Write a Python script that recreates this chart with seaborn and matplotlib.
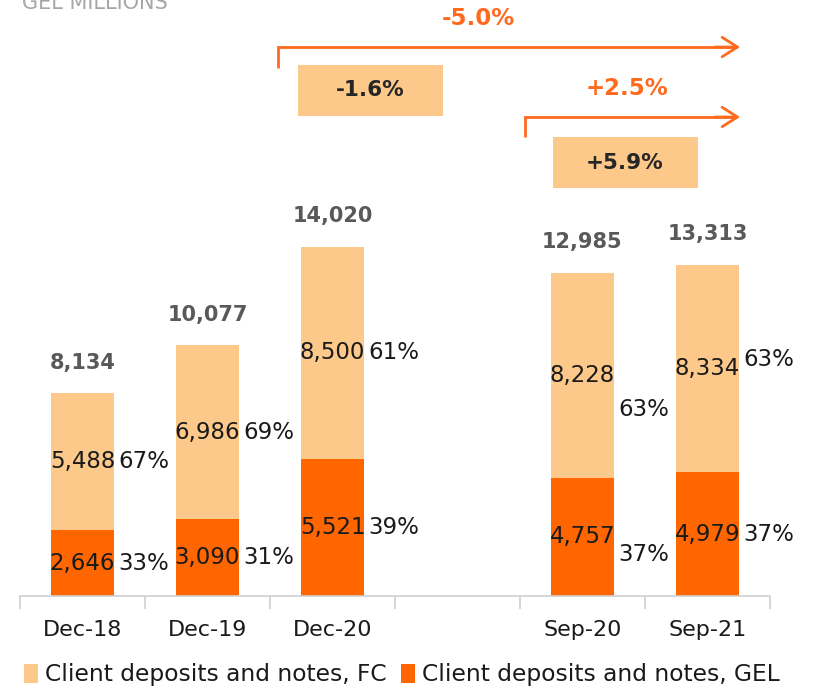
import matplotlib
matplotlib.use("Agg")
import matplotlib.pyplot as plt
from matplotlib.patches import Rectangle, Patch
import seaborn as sns
import pandas as pd
import numpy as np

# Client deposits and notes, GEL millions
periods = ["Dec-18", "Dec-19", "Dec-20", "Sep-20", "Sep-21"]
slot_order = ["Dec-18", "Dec-19", "Dec-20", " ", "Sep-20", "Sep-21"]
totals = [8134, 10077, 14020, 12985, 13313]
fc_values = [5488, 6986, 8500, 8228, 8334]
gel_values = [2646, 3090, 5521, 4757, 4979]
fc_share = ["67%", "69%", "61%", "63%", "63%"]
gel_share = ["33%", "31%", "39%", "37%", "37%"]
growth_labels = ["-5.0%", "-1.6%", "+2.5%", "+5.9%"]

FC_COLOR = "#FDC98B"
GEL_COLOR = "#FF6600"
ARROW_COLOR = "#FF6A1F"

sns.set_theme(style="white")
plt.rcParams["font.family"] = ["DejaVu Sans"]

fig = plt.figure(figsize=(8.15, 6.9), dpi=100)
ax = fig.add_axes([20 / 815, 94 / 690, 750 / 815, 596 / 690])

df = pd.DataFrame({"period": periods, "total": totals, "fc": fc_values, "gel": gel_values})

# stacked bars: total in light colour, GEL share overlaid from the base
sns.barplot(data=df, x="period", y="total", order=slot_order, color=FC_COLOR,
            width=0.5, saturation=1, ax=ax, linewidth=0)
sns.barplot(data=df, x="period", y="gel", order=slot_order, color=GEL_COLOR,
            width=0.5, saturation=1, ax=ax, linewidth=0)

ax.set_xlim(-0.5, 5.5)
ax.set_ylim(0, 23940)
ax.set_xlabel("")
ax.set_ylabel("")
ax.set_yticks([])
for side in ["top", "right", "left"]:
    ax.spines[side].set_visible(False)
ax.spines["bottom"].set_color("#D0D0D0")
ax.spines["bottom"].set_linewidth(1.2)

ax.set_xticks(range(len(slot_order)))
ax.set_xticklabels(slot_order, fontsize=16, color="#1a1a1a")
ax.tick_params(axis="x", which="major", length=0, pad=17)
ax.set_xticks(np.arange(-0.5, 5.6, 1.0), minor=True)
ax.tick_params(axis="x", which="minor", bottom=True, length=9, width=1.2,
               color="#D0D0D0", direction="out")

pos = {p: slot_order.index(p) for p in periods}

# per-bar vertical nudges (points) for the share labels
fc_share_dy = [0, 0, 0, -25, 6]
gel_share_dy = [0, 0, 0, -13, 0]

for i, p in enumerate(periods):
    x = pos[p]
    ax.annotate(f"{totals[i]:,}", (x, totals[i]), xytext=(0, 22), textcoords="offset points",
                ha="center", va="center", fontsize=15, fontweight="bold", color="#595959")
    fc_mid = gel_values[i] + (totals[i] - gel_values[i]) / 2
    gel_mid = gel_values[i] / 2
    ax.text(x, fc_mid, f"{fc_values[i]:,}", ha="center", va="center", fontsize=16.5, color="#1a1a1a")
    ax.text(x, gel_mid, f"{gel_values[i]:,}", ha="center", va="center", fontsize=16.5, color="#1a1a1a")
    ax.annotate(fc_share[i], (x + 0.285, fc_mid), xytext=(0, fc_share_dy[i]), textcoords="offset points",
                ha="left", va="center", fontsize=16.5, color="#1a1a1a")
    ax.annotate(gel_share[i], (x + 0.285, gel_mid), xytext=(0, gel_share_dy[i]), textcoords="offset points",
                ha="left", va="center", fontsize=16.5, color="#1a1a1a")


def growth_arrow(x0, x1, y_top, y_foot, label, label_x, label_y):
    ax.plot([x0, x0, x1 - 0.05], [y_foot, y_top, y_top], color=ARROW_COLOR, lw=2.0,
            solid_capstyle="butt", solid_joinstyle="miter", clip_on=False)
    ax.annotate("", xy=(x1, y_top), xytext=(x1 - 0.2, y_top),
                arrowprops=dict(arrowstyle="->,head_length=0.55,head_width=0.35",
                                color=ARROW_COLOR, lw=2.0, mutation_scale=20,
                                shrinkA=0, shrinkB=0),
                annotation_clip=False)
    ax.text(label_x, label_y, label, ha="center", va="center", fontsize=16.5,
            fontweight="bold", color=ARROW_COLOR)


def growth_box(x0, x1, y0, y1, label):
    ax.add_patch(Rectangle((x0, y0), x1 - x0, y1 - y0, facecolor=FC_COLOR,
                           edgecolor="none", clip_on=False))
    ax.text((x0 + x1) / 2, (y0 + y1) / 2, label, ha="center", va="center",
            fontsize=15.5, fontweight="bold", color="#262626")


growth_arrow(1.56, 5.26, 22050, 21200, growth_labels[0], 3.17, 23200)
growth_box(1.72, 2.88, 19280, 21330, growth_labels[1])
growth_arrow(3.54, 5.26, 19240, 18420, growth_labels[2], 4.36, 20400)
growth_box(3.76, 4.92, 16390, 18430, growth_labels[3])

fig.text(22 / 815, 1 - 9 / 690, "GEL MILLIONS", ha="left", va="baseline",
         fontsize=15, color="#A6A6A6")

handles = [Patch(facecolor=FC_COLOR, edgecolor="none", label="Client deposits and notes, FC"),
           Patch(facecolor=GEL_COLOR, edgecolor="none", label="Client deposits and notes, GEL")]
fig.legend(handles=handles, loc="center", bbox_to_anchor=(402 / 815, 1 - 675 / 690), ncol=2,
           frameon=False, fontsize=16.8, handlelength=0.6, handleheight=0.85,
           handletextpad=0.3, columnspacing=0.6, labelcolor="#1a1a1a")

fig.savefig("out.png", dpi=100)
